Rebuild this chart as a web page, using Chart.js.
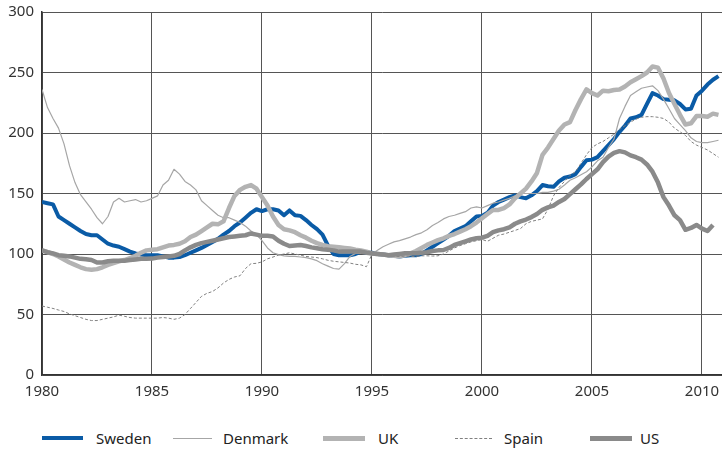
<!DOCTYPE html>
<html>
<head>
<meta charset="utf-8">
<script src="https://cdn.jsdelivr.net/npm/chart.js@4"></script>
<style>
  body { margin: 0; background: #fff; font-family: "Noto Sans", sans-serif; }
  #wrap { position: relative; width: 722px; height: 451px; }
  .item { position: absolute; top: 428px; font-size: 15px; color: #222; line-height: 20px; }
  .swatch { position: absolute; }
</style>
</head>
<body>
<div id="wrap">
  <canvas id="chart" width="722" height="410"></canvas>
  <div id="legend"></div>
</div>
<script>
// quarterly index values, 1980 Q1 onwards
const firstYear = 1980;
const xTicks = [1980, 1985, 1990, 1995, 2000, 2005, 2010];
const yTicks = [0, 50, 100, 150, 200, 250, 300];

const sweden = [
  143, 142, 141, 131,
  128, 125, 122, 119,
  116.5, 115.5, 115.5, 112,
  108.5, 107, 106, 104,
  102, 100.5, 99.5, 99,
  99, 99, 98, 97,
  97, 97.5, 99, 101,
  103, 105, 107.5, 110,
  112.5, 116, 119, 123,
  126, 130, 134, 137,
  135.5, 137, 137, 136,
  132, 136, 132, 131.5,
  128, 124, 120.5, 116,
  107, 100, 99, 99,
  99, 100, 102, 101,
  101, 100, 99.5, 99,
  98.5, 98, 98.5, 99,
  99, 100, 103, 106,
  109, 112, 115, 119,
  121, 123, 127, 131,
  131.5, 134, 140, 143,
  145, 147, 148.5, 147,
  146, 148.5, 152, 157,
  156, 155.5, 160, 163,
  164, 166, 172, 177.5,
  178, 180, 185, 190,
  195, 201, 206, 212,
  213, 215, 224, 233,
  231, 228, 227.5, 227,
  224, 219.5, 220, 231,
  235, 240, 244, 247
];

const denmark = [
  236, 221, 212, 204,
  191, 173, 159, 149,
  143, 137, 130, 125,
  131, 143, 146, 143,
  144, 145, 143, 144,
  146, 148, 157, 161,
  170, 166, 160, 157,
  153, 144, 140, 136,
  132, 130, 130, 128,
  126, 123, 119, 116,
  111, 105, 101, 99.5,
  98.5, 98, 98, 97.5,
  97, 96, 94.5, 92,
  90, 88, 87.5, 92,
  98, 100.5, 100.6, 100.5,
  100, 103, 106, 108,
  110, 111, 112.5, 114,
  116, 117.5, 120, 123.5,
  126, 129, 131, 132,
  133.6, 135, 138, 139,
  138, 140, 142, 143,
  144.5, 146, 148, 150,
  150, 150, 150, 151,
  151, 152, 153.5, 157,
  161, 163, 165.5, 168,
  172, 177, 180, 188,
  195, 212, 222, 231,
  234, 237, 238, 239,
  235, 228, 220, 212,
  207, 202, 196, 193,
  192, 192, 193, 194
];

const uk = [
  103, 101.5, 100, 98,
  95.5, 93, 91, 89,
  87.5, 87, 87.5, 89,
  91, 92.5, 94, 95,
  96.5, 98.5, 101, 103,
  103.5, 104, 105.5, 107,
  107.5, 108.5, 110.5, 114,
  116, 119, 122, 125,
  124.5, 127, 138, 148,
  153, 155.5, 157, 154,
  147, 140, 131, 124,
  120.5, 119.5, 118, 115.5,
  113.5, 111, 109, 107.5,
  106.5, 106, 105.5, 105,
  104.5, 103.5, 103, 102,
  100.5, 100, 99.5, 99,
  98.5, 98, 99, 100.5,
  102.5, 105, 107.5, 109.5,
  111.5, 113, 115, 116.5,
  118.5, 120.5, 123, 126,
  129.5, 133, 136.4, 136.4,
  138, 141, 146, 150,
  154, 160, 167, 182,
  188, 195, 202, 207,
  209, 219, 228, 236,
  233, 231, 235, 234.5,
  235.5, 236, 238.5, 242,
  244.5, 247, 250, 255,
  254, 245, 233, 224,
  215, 207, 208, 214,
  214, 213.5, 216, 215
];

const spain = [
  57, 56, 55, 53.7,
  52.5, 50.5, 49, 47.5,
  46, 45, 45, 46,
  47, 48, 49.5, 48.5,
  47.5, 47, 47, 47,
  47, 47, 47.5, 47,
  46, 47, 50, 55,
  60, 65, 67.5, 69,
  72, 76, 79, 81,
  82, 88, 92, 92.3,
  93.5, 96, 97.5, 99,
  100, 101, 100, 99,
  98, 97.5, 97, 96,
  94.8, 94, 93.5, 93,
  92.5, 91.5, 91, 89.5,
  100, 99.5, 99, 98.5,
  98, 98, 98.3, 98,
  98, 98.5, 98.5, 98.3,
  98.5, 100, 102.5, 105,
  107, 108.5, 110, 111,
  112, 110.5, 113, 115.5,
  116.5, 118, 119.5, 121,
  125, 127, 128, 129,
  137, 148, 155, 160,
  165, 168, 175, 182,
  188, 191, 193, 196,
  199, 203, 206, 209,
  211.5, 213, 213.5, 213.5,
  213, 212, 209, 204,
  201, 198, 193, 190,
  188, 186, 183, 180
];

const us = [
  103, 101.5, 100.5, 99,
  98.5, 98, 97, 96,
  95.6, 95, 93, 93,
  94, 94.5, 94.5, 94.5,
  95, 95.5, 96, 96,
  96.2, 97, 97.5, 98,
  98.5, 100, 103, 105.5,
  107.5, 109, 110, 111,
  112, 113, 114, 114.5,
  115, 115.5, 117, 116,
  115, 115, 114.5, 111,
  108.5, 106.6, 107, 107.4,
  106.6, 105.5, 104.7, 104,
  103.5, 103, 102, 102,
  102, 102, 102, 101,
  100.5, 100, 99.5, 99,
  99.5, 100, 100.6, 100.6,
  100.6, 101, 101.5, 102.5,
  103, 103.3, 105, 107.5,
  109, 110.5, 112, 113,
  113.5, 115, 118, 119.5,
  120.5, 122, 125, 127,
  128.5, 130.5, 133, 136.5,
  138.5, 140, 143, 145.5,
  149.5, 153.5, 157.5, 162,
  166, 170, 176, 180.5,
  183.5, 185, 184, 181.5,
  180, 178, 174, 168,
  159, 147, 140, 132,
  128, 120, 121.5, 124,
  121, 119, 124
];

const series = [
  { label: 'Sweden',  data: sweden,  color: '#0a5ba6', width: 4,   dash: [],     order: 5 },
  { label: 'Denmark', data: denmark, color: '#a6a6a6', width: 1.2, dash: [],     order: 4 },
  { label: 'UK',      data: uk,      color: '#b3b3b3', width: 4.5, dash: [],     order: 3 },
  { label: 'Spain',   data: spain,   color: '#808080', width: 1,   dash: [3, 2], order: 2 },
  { label: 'US',      data: us,      color: '#8a8a8a', width: 4.5, dash: [],     order: 1 }
];

function toPoints(values) {
  return values.map((v, i) => ({ x: firstYear + i / 4, y: v }));
}

const ctx = document.getElementById('chart').getContext('2d');
new Chart(ctx, {
  type: 'line',
  data: {
    datasets: series.map(s => ({
      label: s.label,
      data: toPoints(s.data),
      borderColor: s.color,
      borderWidth: s.width,
      borderDash: s.dash,
      order: s.order,
      pointRadius: 0,
      tension: 0,
      fill: false,
      borderJoinStyle: 'round'
    }))
  },
  options: {
    responsive: false,
    devicePixelRatio: 1,
    animation: false,
    layout: { padding: { top: 12, right: 0, left: 0, bottom: 0 } },
    plugins: { legend: { display: false }, tooltip: { enabled: false } },
    scales: {
      x: {
        type: 'linear',
        min: 1980,
        max: 2010.91,
        afterBuildTicks: scale => {
          scale.ticks = xTicks.map(v => ({ value: v }));
        },
        afterFit: scale => {
          scale.height = 35;
          scale.paddingLeft = 0;
          scale.paddingRight = 0;
        },
        ticks: {
          maxRotation: 0,
          autoSkip: false,
          padding: 8,
          color: '#333',
          font: { family: 'Noto Sans', size: 15 },
          callback: v => String(v)
        },
        grid: { color: '#555', lineWidth: 1, drawTicks: false },
        border: { color: '#333', width: 1.5 }
      },
      y: {
        min: 0,
        max: 300,
        afterBuildTicks: scale => {
          scale.ticks = yTicks.map(v => ({ value: v }));
        },
        afterFit: scale => {
          scale.width = 42;
          scale.paddingTop = 0;
          scale.paddingBottom = 0;
        },
        ticks: {
          padding: 8,
          color: '#333',
          font: { family: 'Noto Sans', size: 15 }
        },
        grid: { color: '#555', lineWidth: 1, drawTicks: false },
        border: { color: '#333', width: 1.5 }
      }
    }
  }
});

// legend laid out as in the original figure
const legendPos = [
  { sx: 42,  sw: 41, tx: 96 },
  { sx: 173, sw: 39, tx: 223 },
  { sx: 323, sw: 42, tx: 378 },
  { sx: 455, sw: 37, tx: 504 },
  { sx: 590, sw: 42, tx: 640 }
];
const legend = document.getElementById('legend');
series.forEach((s, i) => {
  const p = legendPos[i];
  const sw = document.createElement('div');
  sw.className = 'swatch';
  sw.style.left = p.sx + 'px';
  sw.style.width = p.sw + 'px';
  const h = Math.round(s.width);
  sw.style.top = (438 - h / 2) + 'px';
  if (s.dash.length) {
    sw.style.borderTop = '1px dashed ' + s.color;
  } else {
    sw.style.height = h + 'px';
    sw.style.background = s.color;
  }
  legend.appendChild(sw);
  const t = document.createElement('div');
  t.className = 'item';
  t.style.left = p.tx + 'px';
  t.textContent = s.label;
  legend.appendChild(t);
});
</script>
</body>
</html>
